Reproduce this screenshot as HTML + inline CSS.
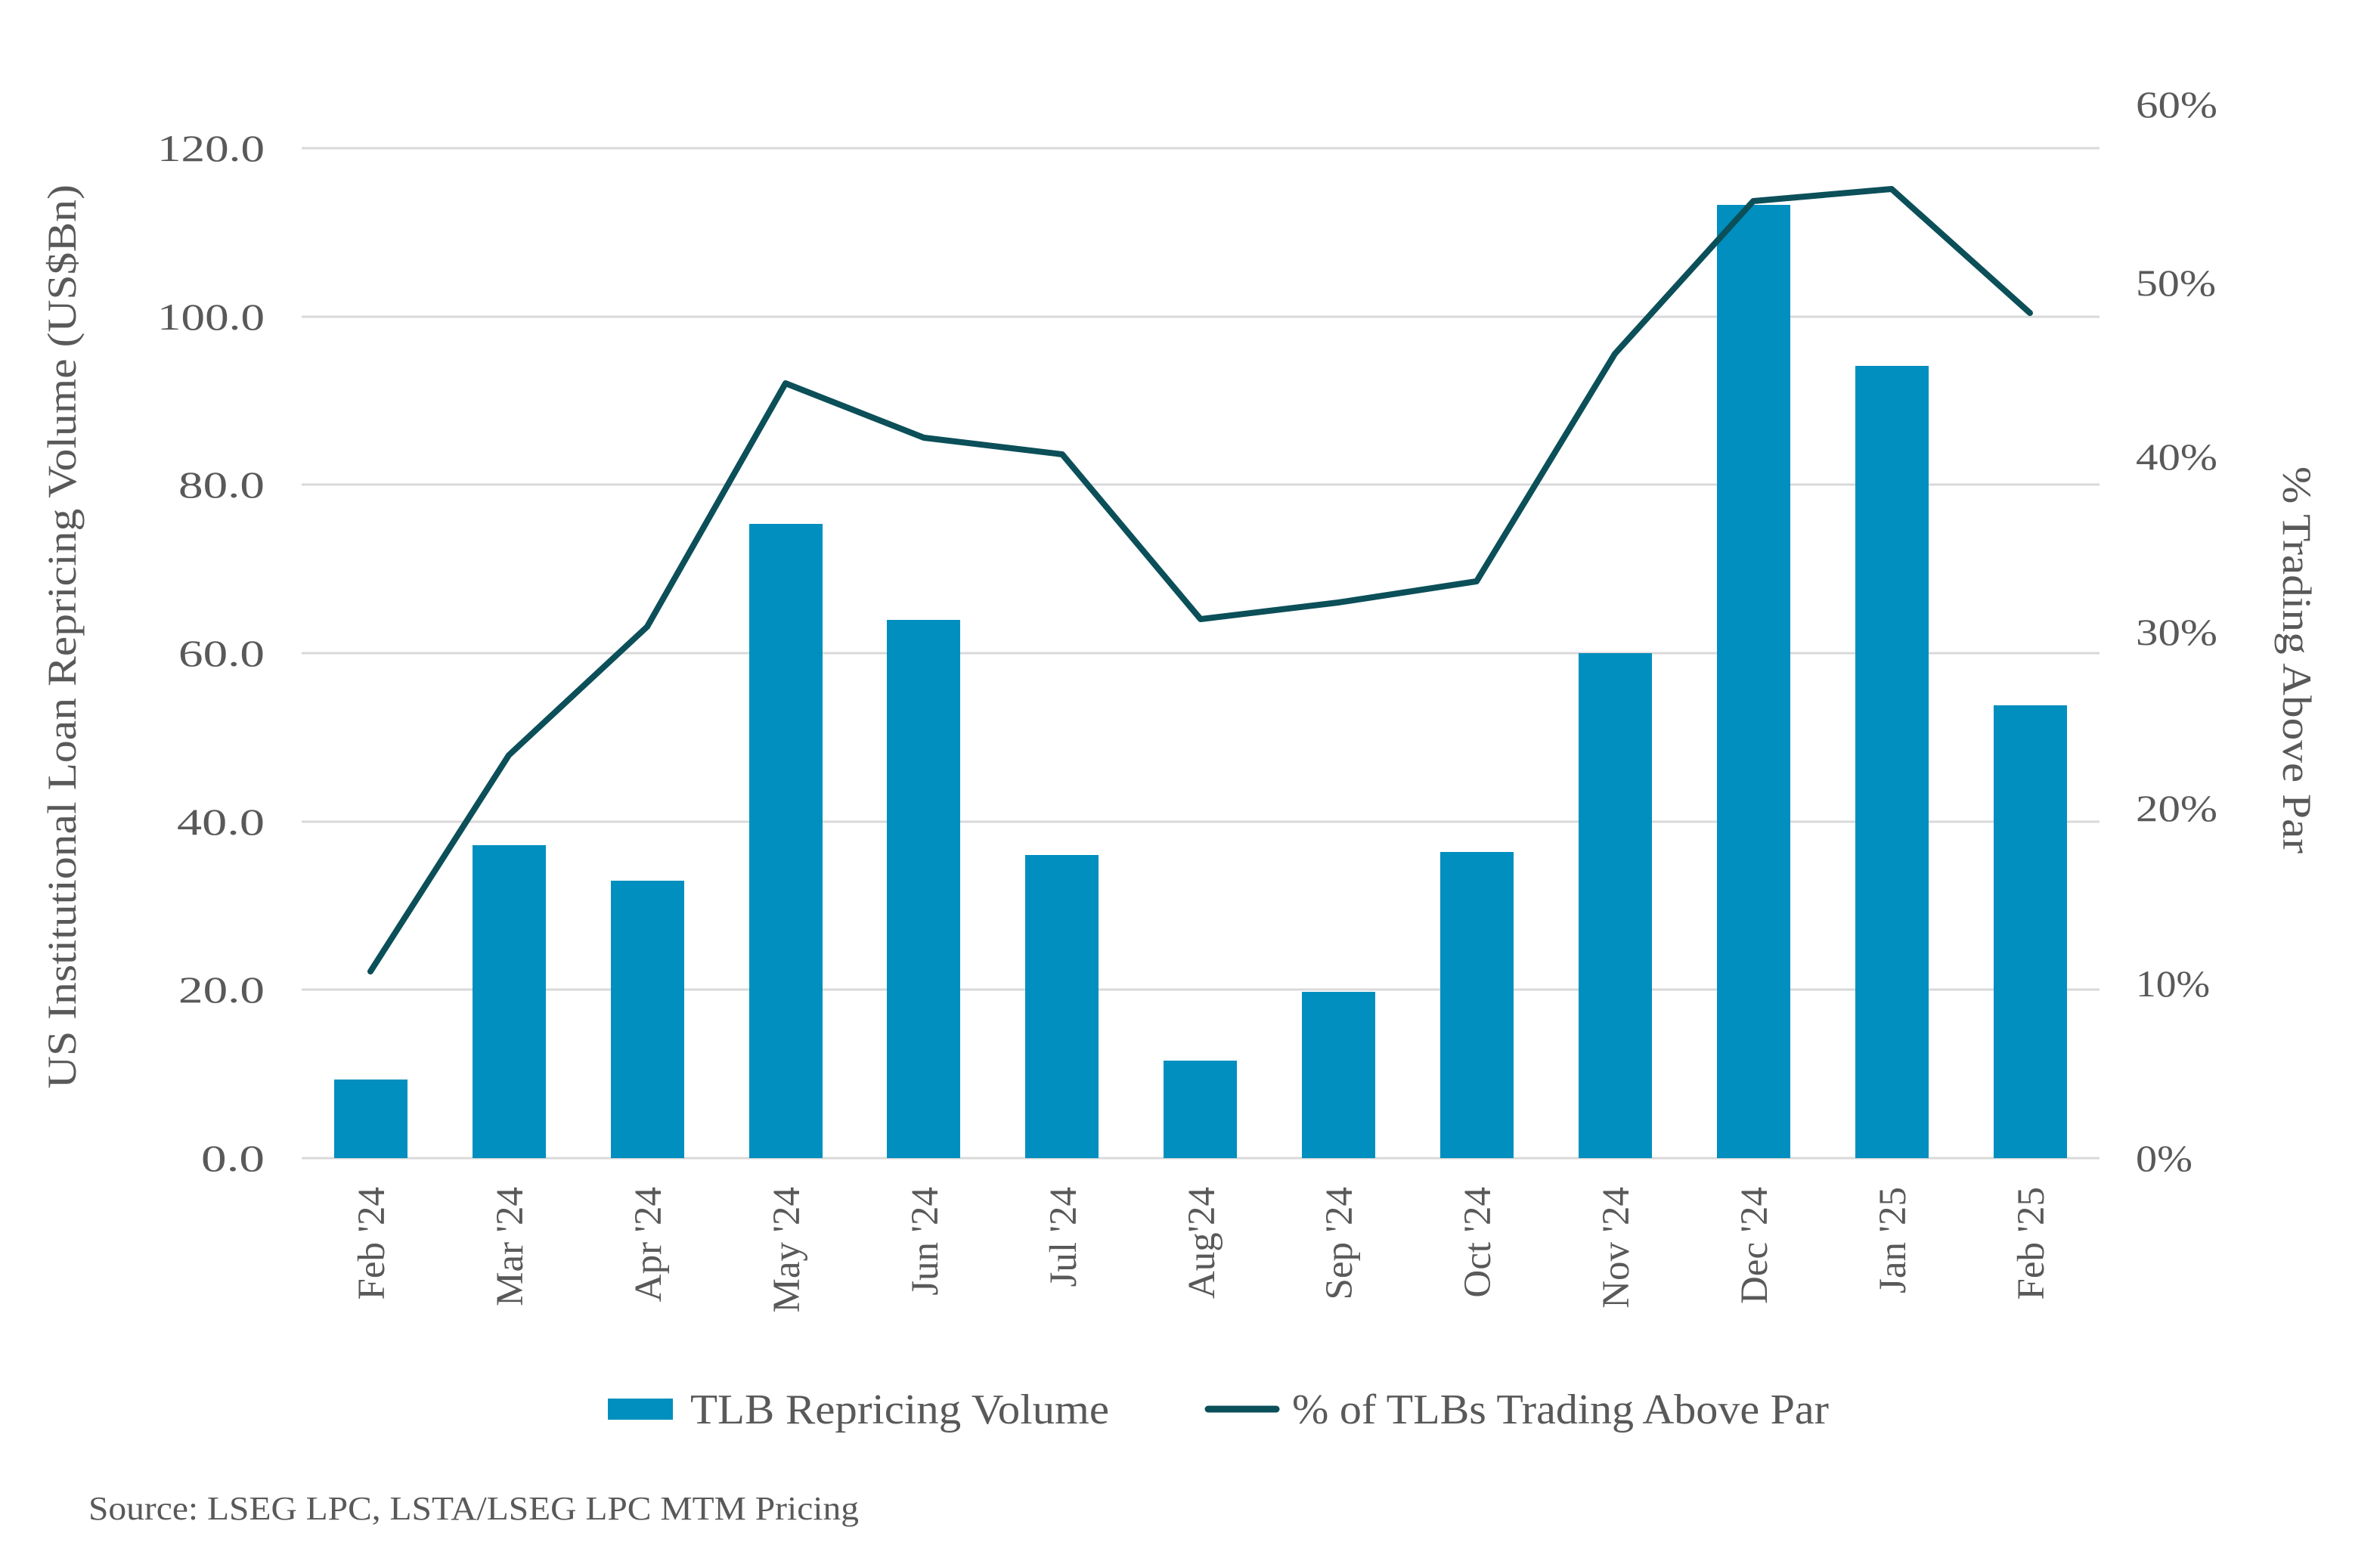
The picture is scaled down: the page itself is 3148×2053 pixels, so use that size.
<!DOCTYPE html>
<html><head><meta charset="utf-8"><style>
html,body{margin:0;padding:0;background:#fff;}
svg{display:block;}
text{font-family:"Liberation Serif",serif;fill:#595959;}
</style></head><body>
<svg width="3148" height="2053" viewBox="0 0 3148 2053" xmlns="http://www.w3.org/2000/svg">
<g stroke="#d9d9d9" stroke-width="3">
<line x1="399" x2="2777" y1="196" y2="196"/>
<line x1="399" x2="2777" y1="419" y2="419"/>
<line x1="399" x2="2777" y1="641" y2="641"/>
<line x1="399" x2="2777" y1="864" y2="864"/>
<line x1="399" x2="2777" y1="1087" y2="1087"/>
<line x1="399" x2="2777" y1="1309" y2="1309"/>
<line x1="399" x2="2777" y1="1532" y2="1532"/>
</g>
<g font-size="50" text-anchor="end" lengthAdjust="spacingAndGlyphs">
<text x="350" y="213" textLength="142" lengthAdjust="spacingAndGlyphs">120.0</text>
<text x="350" y="436" textLength="142" lengthAdjust="spacingAndGlyphs">100.0</text>
<text x="350" y="658" textLength="114" lengthAdjust="spacingAndGlyphs">80.0</text>
<text x="350" y="881" textLength="114" lengthAdjust="spacingAndGlyphs">60.0</text>
<text x="350" y="1104" textLength="116" lengthAdjust="spacingAndGlyphs">40.0</text>
<text x="350" y="1326" textLength="114" lengthAdjust="spacingAndGlyphs">20.0</text>
<text x="350" y="1549" textLength="84" lengthAdjust="spacingAndGlyphs">0.0</text>
</g>
<g font-size="50" text-anchor="start">
<text x="2825" y="155" textLength="108" lengthAdjust="spacingAndGlyphs">60%</text>
<text x="2825" y="391" textLength="106" lengthAdjust="spacingAndGlyphs">50%</text>
<text x="2825" y="621" textLength="108" lengthAdjust="spacingAndGlyphs">40%</text>
<text x="2825" y="853" textLength="108" lengthAdjust="spacingAndGlyphs">30%</text>
<text x="2825" y="1086" textLength="108" lengthAdjust="spacingAndGlyphs">20%</text>
<text x="2825" y="1318" textLength="98" lengthAdjust="spacingAndGlyphs">10%</text>
<text x="2825" y="1549" textLength="75" lengthAdjust="spacingAndGlyphs">0%</text>
</g>
<text transform="translate(100,842) rotate(-90)" font-size="54" text-anchor="middle" textLength="1196" lengthAdjust="spacingAndGlyphs">US Institutional Loan Repricing Volume (US$Bn)</text>
<text transform="translate(3020,873) rotate(90)" font-size="54" text-anchor="middle" textLength="512" lengthAdjust="spacingAndGlyphs">% Trading Above Par</text>
<g fill="#008fbe">
<rect x="442" y="1428" width="97" height="104"/>
<rect x="625" y="1118" width="97" height="414"/>
<rect x="808" y="1165" width="97" height="367"/>
<rect x="991" y="693" width="97" height="839"/>
<rect x="1173" y="820" width="97" height="712"/>
<rect x="1356" y="1131" width="97" height="401"/>
<rect x="1539" y="1403" width="97" height="129"/>
<rect x="1722" y="1312" width="97" height="220"/>
<rect x="1905" y="1127" width="97" height="405"/>
<rect x="2088" y="864" width="97" height="668"/>
<rect x="2271" y="271" width="97" height="1261"/>
<rect x="2454" y="484" width="97" height="1048"/>
<rect x="2637" y="933" width="97" height="599"/>
</g>
<polyline fill="none" stroke="#0b4f59" stroke-width="8" stroke-linejoin="round" stroke-linecap="round"
points="490,1285 673,999 856,829 1039,507 1222,579 1405,601 1588,819 1770,797 1953,769 2136,468 2319,266 2502,250 2685,414"/>
<g font-size="51" text-anchor="end">
<text transform="translate(508,1570) rotate(-90)">Feb '24</text>
<text transform="translate(691,1570) rotate(-90)">Mar '24</text>
<text transform="translate(874,1570) rotate(-90)">Apr '24</text>
<text transform="translate(1057,1570) rotate(-90)">May '24</text>
<text transform="translate(1240,1570) rotate(-90)">Jun '24</text>
<text transform="translate(1423,1570) rotate(-90)">Jul '24</text>
<text transform="translate(1606,1570) rotate(-90)">Aug'24</text>
<text transform="translate(1788,1570) rotate(-90)">Sep '24</text>
<text transform="translate(1971,1570) rotate(-90)">Oct '24</text>
<text transform="translate(2154,1570) rotate(-90)">Nov '24</text>
<text transform="translate(2337,1570) rotate(-90)">Dec '24</text>
<text transform="translate(2520,1570) rotate(-90)">Jan '25</text>
<text transform="translate(2703,1570) rotate(-90)">Feb '25</text>
</g>
<rect x="804" y="1850" width="86" height="28" fill="#008fbe"/>
<text x="913" y="1883" font-size="56" textLength="554" lengthAdjust="spacingAndGlyphs">TLB Repricing Volume</text>
<line x1="1598" x2="1688" y1="1864" y2="1864" stroke="#0b4f59" stroke-width="9" stroke-linecap="round"/>
<text x="1709" y="1883" font-size="56" textLength="710" lengthAdjust="spacingAndGlyphs">% of TLBs Trading Above Par</text>
<text x="117" y="2010" font-size="44" textLength="1019" lengthAdjust="spacingAndGlyphs">Source: LSEG LPC, LSTA/LSEG LPC MTM Pricing</text>
</svg>
</body></html>
